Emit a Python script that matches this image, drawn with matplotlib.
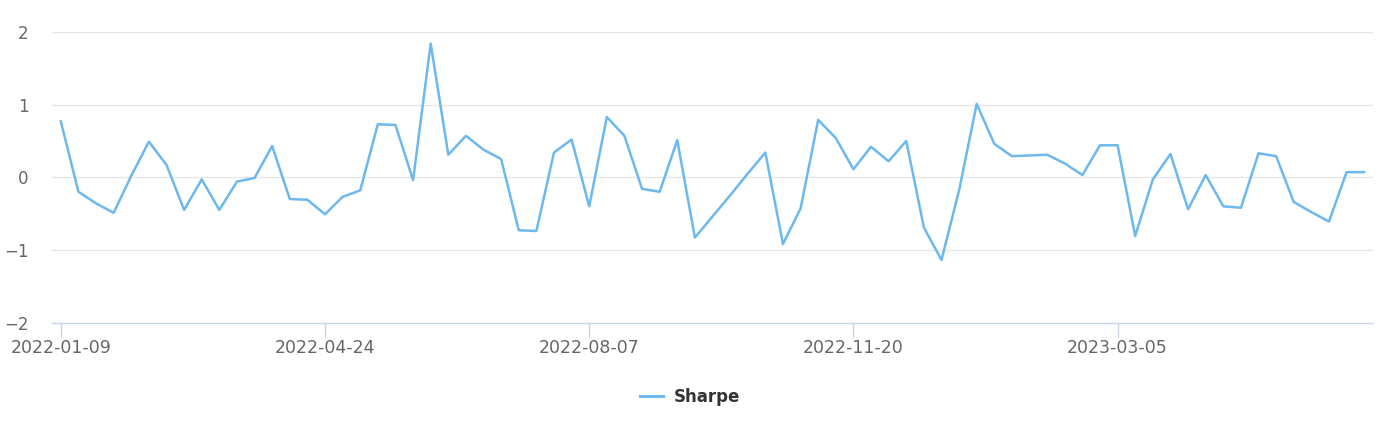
import matplotlib
matplotlib.use("Agg")
import matplotlib.pyplot as plt
import pandas as pd

# weekly categories starting 2022-01-09
dates = pd.date_range("2022-01-09", periods=75, freq="7D").strftime("%Y-%m-%d").tolist()

sharpe = [
    0.77, -0.20, -0.36, -0.49, 0.02, 0.49, 0.17, -0.45, -0.03, -0.45,
    -0.06, -0.01, 0.43, -0.30, -0.31, -0.51, -0.27, -0.18, 0.73, 0.72,
    -0.04, 1.84, 0.31, 0.57, 0.38, 0.25, -0.73, -0.74, 0.34, 0.52,
    -0.40, 0.83, 0.57, -0.16, -0.20, 0.51, -0.83, -0.54, -0.25, 0.05,
    0.34, -0.92, -0.43, 0.79, 0.54, 0.11, 0.42, 0.22, 0.50, -0.69,
    -1.14, -0.18, 1.01, 0.46, 0.29, 0.30, 0.31, 0.19, 0.03, 0.44,
    0.44, -0.81, -0.03, 0.32, -0.44, 0.03, -0.40, -0.42, 0.33, 0.29,
    -0.34, -0.48, -0.61, 0.07, 0.07,
]

y_ticks = [-2, -1, 0, 1, 2]
label_step = 15

LINE_COLOR = "#6cb8ef"
GRID_COLOR = "#e6e6e6"
AXIS_COLOR = "#ccd6eb"
LABEL_COLOR = "#666666"

fig = plt.figure(figsize=(13.89, 4.33), dpi=100)
ax = fig.add_axes([52 / 1389, 1 - 322.5 / 433, (1373 - 52) / 1389, (322.5 - 32) / 433])

x = list(range(len(sharpe)))
line, = ax.plot(x, sharpe, color=LINE_COLOR, lw=1.8, solid_joinstyle="round", zorder=3)

ax.set_xlim(-0.5, len(sharpe) - 0.5)
ax.set_ylim(-2, 2)

# grid lines
for v in y_ticks[1:]:
    ax.axhline(v, color=GRID_COLOR, lw=1, zorder=1)

for side in ["top", "right", "left"]:
    ax.spines[side].set_visible(False)
ax.spines["bottom"].set_color(AXIS_COLOR)
ax.spines["bottom"].set_linewidth(1)

ax.set_yticks(y_ticks)
ax.set_yticklabels(["\u22122", "\u22121", "0", "1", "2"])
ax.tick_params(axis="y", length=0, pad=17, labelsize=12, labelcolor=LABEL_COLOR)

tick_pos = x[::label_step]
ax.set_xticks(tick_pos)
ax.set_xticklabels([dates[i] for i in tick_pos])
ax.tick_params(axis="x", length=10, width=1, color=AXIS_COLOR, pad=2,
               labelsize=12.5, labelcolor=LABEL_COLOR)

leg = fig.legend([line], ["Sharpe"], loc="center", bbox_to_anchor=(690 / 1389, 1 - 397 / 433),
                 frameon=False, handlelength=1.4, handletextpad=0.6,
                 prop={"weight": "bold", "size": 12})
for t in leg.get_texts():
    t.set_color("#333333")
for h in leg.get_lines():
    h.set_linewidth(2.2)

fig.savefig("out.png", dpi=100, facecolor="white")
